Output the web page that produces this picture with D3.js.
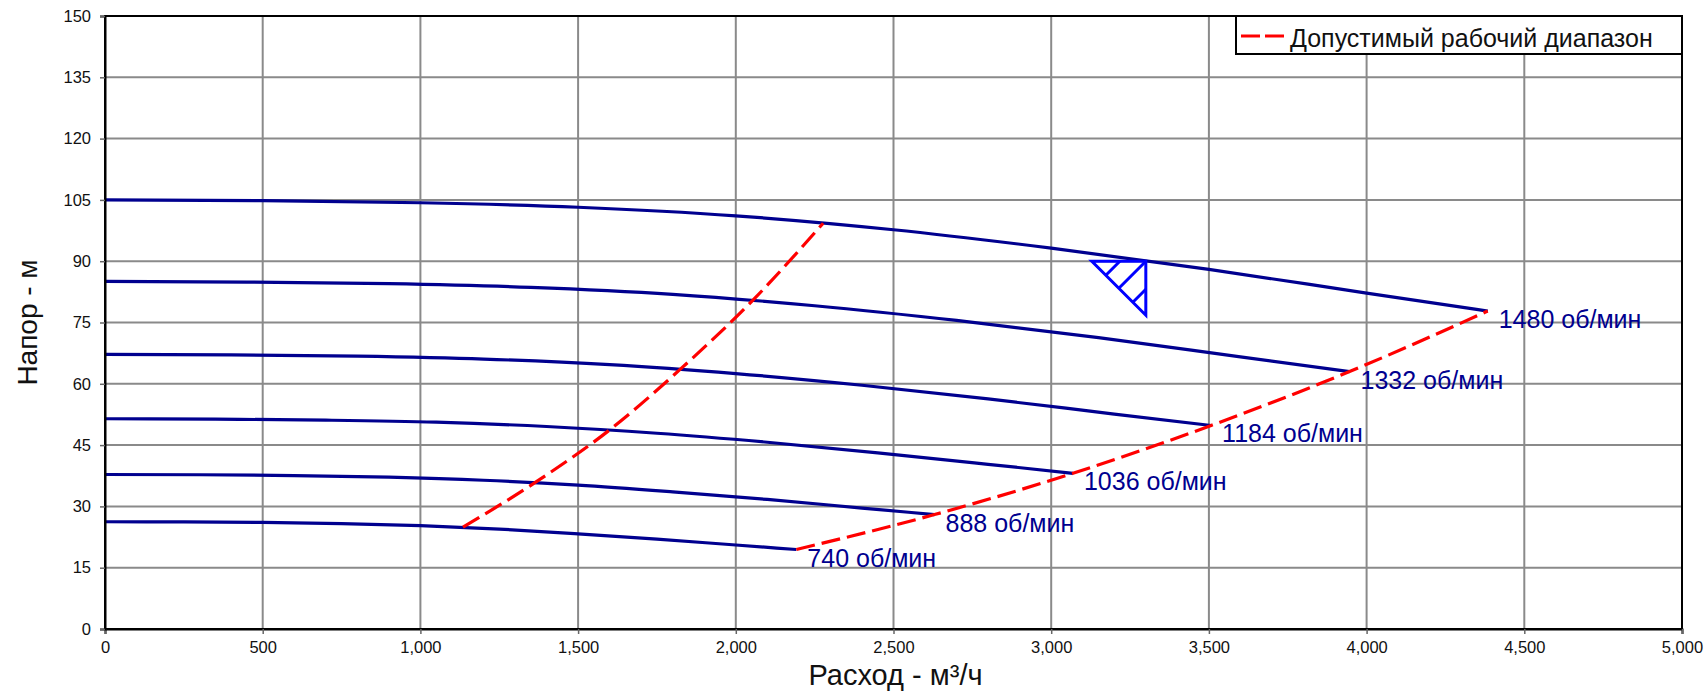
<!DOCTYPE html>
<html><head><meta charset="utf-8">
<script src="https://cdn.jsdelivr.net/npm/d3@7"></script>
<style>
body{margin:0;background:#fff}
svg{display:block}
text{font-family:"Liberation Sans",Arial,Helvetica,sans-serif}
</style>
</head><body>
<svg id="chart" width="1708" height="692"></svg>
<script>
// ---- data ----
const speeds = ["1480 об/мин","1332 об/мин","1184 об/мин","1036 об/мин","888 об/мин","740 об/мин"];
const q1480 = [0,500,1000,1500,2000,2500,3000,3500,4000,4384];
const h1480 = [105,104.8,104.3,103.2,101.1,97.7,93.2,88.0,82.2,77.8];
const q1332 = [0,450,900,1350,1800,2250,2700,3150,3600,3946];
const h1332 = [85.05,84.9,84.5,83.6,81.9,79.1,75.5,71.3,66.6,63.0];
const q1184 = [0,400,800,1200,1600,2000,2400,2800,3200,3507];
const h1184 = [67.2,67.1,66.75,66.05,64.7,62.5,59.65,56.3,52.6,49.8];
const q1036 = [0,350,700,1050,1400,1750,2100,2450,2800,3069];
const h1036 = [51.45,51.35,51.1,50.6,49.55,47.9,45.7,43.1,40.3,38.1];
const q888  = [0,300,600,900,1200,1500,1800,2100,2400,2630];
const h888  = [37.8,37.75,37.55,37.15,36.4,35.2,33.55,31.7,29.6,28.0];
const q740  = [0,250,500,750,1000,1250,1500,1750,2000,2192];
const h740  = [26.25,26.2,26.1,25.8,25.3,24.45,23.3,22.0,20.55,19.45];
// allowed operating range (red dashed)
const rangeMinQ = [1135,1363,1603,1826,2056,2277];
const rangeMinH = [24.9,35.8,48.9,63.7,80.6,99.3];
const rangeMaxQ = [2192,2630,3069,3507,3946,4384];
const rangeMaxH = [19.45,28.0,38.1,49.8,63.0,77.8];
// duty point
const dutyQ = 3300, dutyH = 90;
// ticks
const xTicks = [0,500,1000,1500,2000,2500,3000,3500,4000,4500,5000];
const yTicks = [0,15,30,45,60,75,90,105,120,135,150];
const xTitle = "Расход - м³/ч";
const yTitle = "Напор - м";
const legendLabel = "Допустимый рабочий диапазон";

// ---- layout ----
const W = 1708, H = 692;
const m = {left:105, top:16, right:26, bottom:63};
const iw = W - m.left - m.right, ih = H - m.top - m.bottom;

const svg = d3.select("#chart");
const g = svg.append("g").attr("transform", `translate(${m.left},${m.top})`);

const x = d3.scaleLinear().domain([0,5000]).range([0,iw]);
const y = d3.scaleLinear().domain([0,150]).range([ih,0]);

// grid
g.append("g").selectAll("line").data(xTicks.slice(1,-1)).join("line")
  .attr("x1",d=>x(d)).attr("x2",d=>x(d)).attr("y1",0).attr("y2",ih)
  .attr("stroke","#8a8a8a").attr("stroke-width",2);
g.append("g").selectAll("line").data(yTicks.slice(1,-1)).join("line")
  .attr("y1",d=>y(d)).attr("y2",d=>y(d)).attr("x1",0).attr("x2",iw)
  .attr("stroke","#8a8a8a").attr("stroke-width",2);

// curves
const curveData = [
  [q1480,h1480],[q1332,h1332],[q1184,h1184],[q1036,h1036],[q888,h888],[q740,h740]
].map(([qs,hs],i)=>({label:speeds[i], pts:qs.map((q,j)=>[q,hs[j]])}));

const line = d3.line().x(d=>x(d[0])).y(d=>y(d[1])).curve(d3.curveMonotoneX);

const navy = "#00008f";
g.append("g").selectAll("path").data(curveData).join("path")
  .attr("d",d=>line(d.pts)).attr("fill","none")
  .attr("stroke",navy).attr("stroke-width",3.2);

// red dashed range lines
const red = "#ff0000";
[[rangeMinQ,rangeMinH],[rangeMaxQ,rangeMaxH]].forEach(([qs,hs])=>{
  g.append("path").attr("d",line(qs.map((q,j)=>[q,hs[j]])))
    .attr("fill","none").attr("stroke",red).attr("stroke-width",3.2)
    .attr("stroke-dasharray","19,7");
});

// speed labels
g.append("g").selectAll("text").data(curveData).join("text")
  .attr("x",d=>x(d.pts[d.pts.length-1][0])+11)
  .attr("y",d=>y(d.pts[d.pts.length-1][1])+17)
  .attr("fill",navy).attr("font-size",25).text(d=>d.label);

// duty point triangle with hatching
const tx = x(dutyQ), ty = y(dutyH);
const tri = g.append("g").attr("transform",`translate(${tx},${ty})`)
  .attr("stroke","#0000ff").attr("stroke-width",3).attr("fill","none");
tri.append("path").attr("d","M-54,0L0,0L0,54Z").attr("stroke-linejoin","miter");
tri.append("path").attr("d","M-40,14L-26,0M-27,27L0,0M-13,41L0,28");

// border + axes
g.append("rect").attr("x",0).attr("y",0).attr("width",iw).attr("height",ih)
  .attr("fill","none").attr("stroke","#000").attr("stroke-width",2);

const xAxis = g.append("g").attr("transform",`translate(0,${ih})`)
  .call(d3.axisBottom(x).tickValues(xTicks).tickFormat(d3.format(",")).tickSize(5).tickPadding(7));
const yAxis = g.append("g")
  .call(d3.axisLeft(y).tickValues(yTicks).tickSize(5).tickPadding(9));
[xAxis,yAxis].forEach(a=>{
  a.select(".domain").attr("stroke","#000").attr("stroke-width",2);
  a.selectAll(".tick line").attr("stroke","#666").attr("stroke-width",1.5);
  a.selectAll(".tick text").attr("font-size",16.5).attr("fill","#111")
    .attr("font-family",'"Liberation Sans",Arial,sans-serif');
});

// axis titles
svg.append("text").attr("x",m.left+iw/2+2).attr("y",685)
  .attr("text-anchor","middle").attr("font-size",29).attr("fill","#111").text(xTitle);
svg.append("text").attr("transform",`translate(37,${m.top+ih/2}) rotate(-90)`)
  .attr("text-anchor","middle").attr("font-size",28).attr("fill","#111").text(yTitle);

// legend
const lg = g.append("g");
lg.append("rect").attr("x",x(5000)-446).attr("y",0).attr("width",446).attr("height",38)
  .attr("fill","#fff").attr("stroke","#000").attr("stroke-width",2);
lg.append("line").attr("x1",x(5000)-441).attr("x2",x(5000)-398).attr("y1",20).attr("y2",20)
  .attr("stroke",red).attr("stroke-width",3.2).attr("stroke-dasharray","19,5");
lg.append("text").attr("x",x(5000)-392).attr("y",30.5).attr("font-size",25)
  .attr("fill","#111").text(legendLabel);
</script>
</body></html>
